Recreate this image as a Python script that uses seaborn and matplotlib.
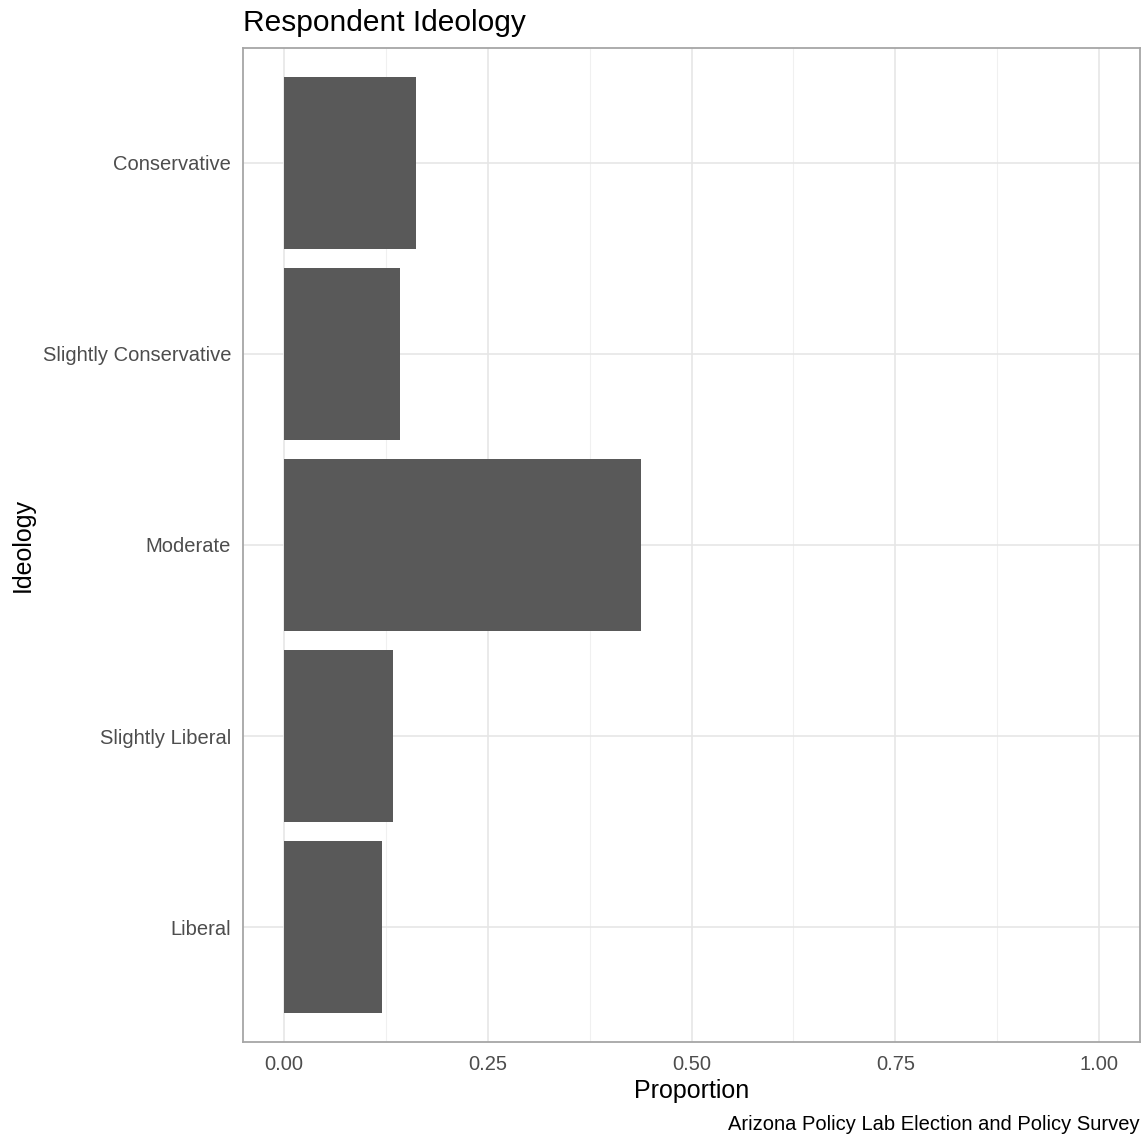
import pandas as pd
import seaborn as sns
import matplotlib.pyplot as plt
from matplotlib.ticker import MultipleLocator

# data
ideology = ['Conservative', 'Slightly Conservative', 'Moderate', 'Slightly Liberal', 'Liberal']
proportion = [0.162, 0.142, 0.4375, 0.134, 0.121]

df = pd.DataFrame({'ideology': ideology, 'proportion': proportion})

sns.set_theme(style='white')
plt.rcParams['font.family'] = ['Liberation Sans', 'DejaVu Sans']

fig = plt.figure(figsize=(11.47, 11.39), dpi=100)
ax = fig.add_axes([243 / 1147, 1 - 1042 / 1139, (1140 - 243) / 1147, (1042 - 48) / 1139])

sns.barplot(data=df, x='proportion', y='ideology', order=ideology, orient='h',
            color='#595959', saturation=1, width=0.9, linewidth=0, ax=ax, zorder=3)

ax.set_xlim(-0.05, 1.05)
ax.set_ylim(4.6, -0.6)
ax.xaxis.set_major_locator(MultipleLocator(0.25))
ax.xaxis.set_minor_locator(MultipleLocator(0.125))
ax.set_xticklabels([f'{v:.2f}' for v in ax.get_xticks()])

ax.grid(which='major', axis='both', color='#E6E6E6', linewidth=1.2, zorder=0)
ax.grid(which='minor', axis='x', color='#F0F0F0', linewidth=0.8, zorder=0)
ax.set_axisbelow(True)

for s in ax.spines.values():
    s.set_color('#A6A6A6')
    s.set_linewidth(1.3)
    s.set_visible(True)

ax.tick_params(axis='both', which='both', length=0,
               labelsize=14.5, labelcolor='#4D4D4D')
ax.tick_params(axis='x', pad=9.5)
ax.tick_params(axis='y', pad=8.5)

ax.set_xlabel('Proportion', fontsize=18, color='black')
ax.set_ylabel('Ideology', fontsize=18, color='black')
ax.xaxis.set_label_coords(0.5, -0.037)
ax.yaxis.set_label_coords(-0.232, 0.5)
ax.set_title('Respondent Ideology', loc='left', fontsize=21.5, color='black', pad=12)

fig.text(1140 / 1147, 1 - 1125 / 1139, 'Arizona Policy Lab Election and Policy Survey',
         ha='right', va='center', fontsize=14.5, color='black')

fig.savefig('out.png', dpi=100)
